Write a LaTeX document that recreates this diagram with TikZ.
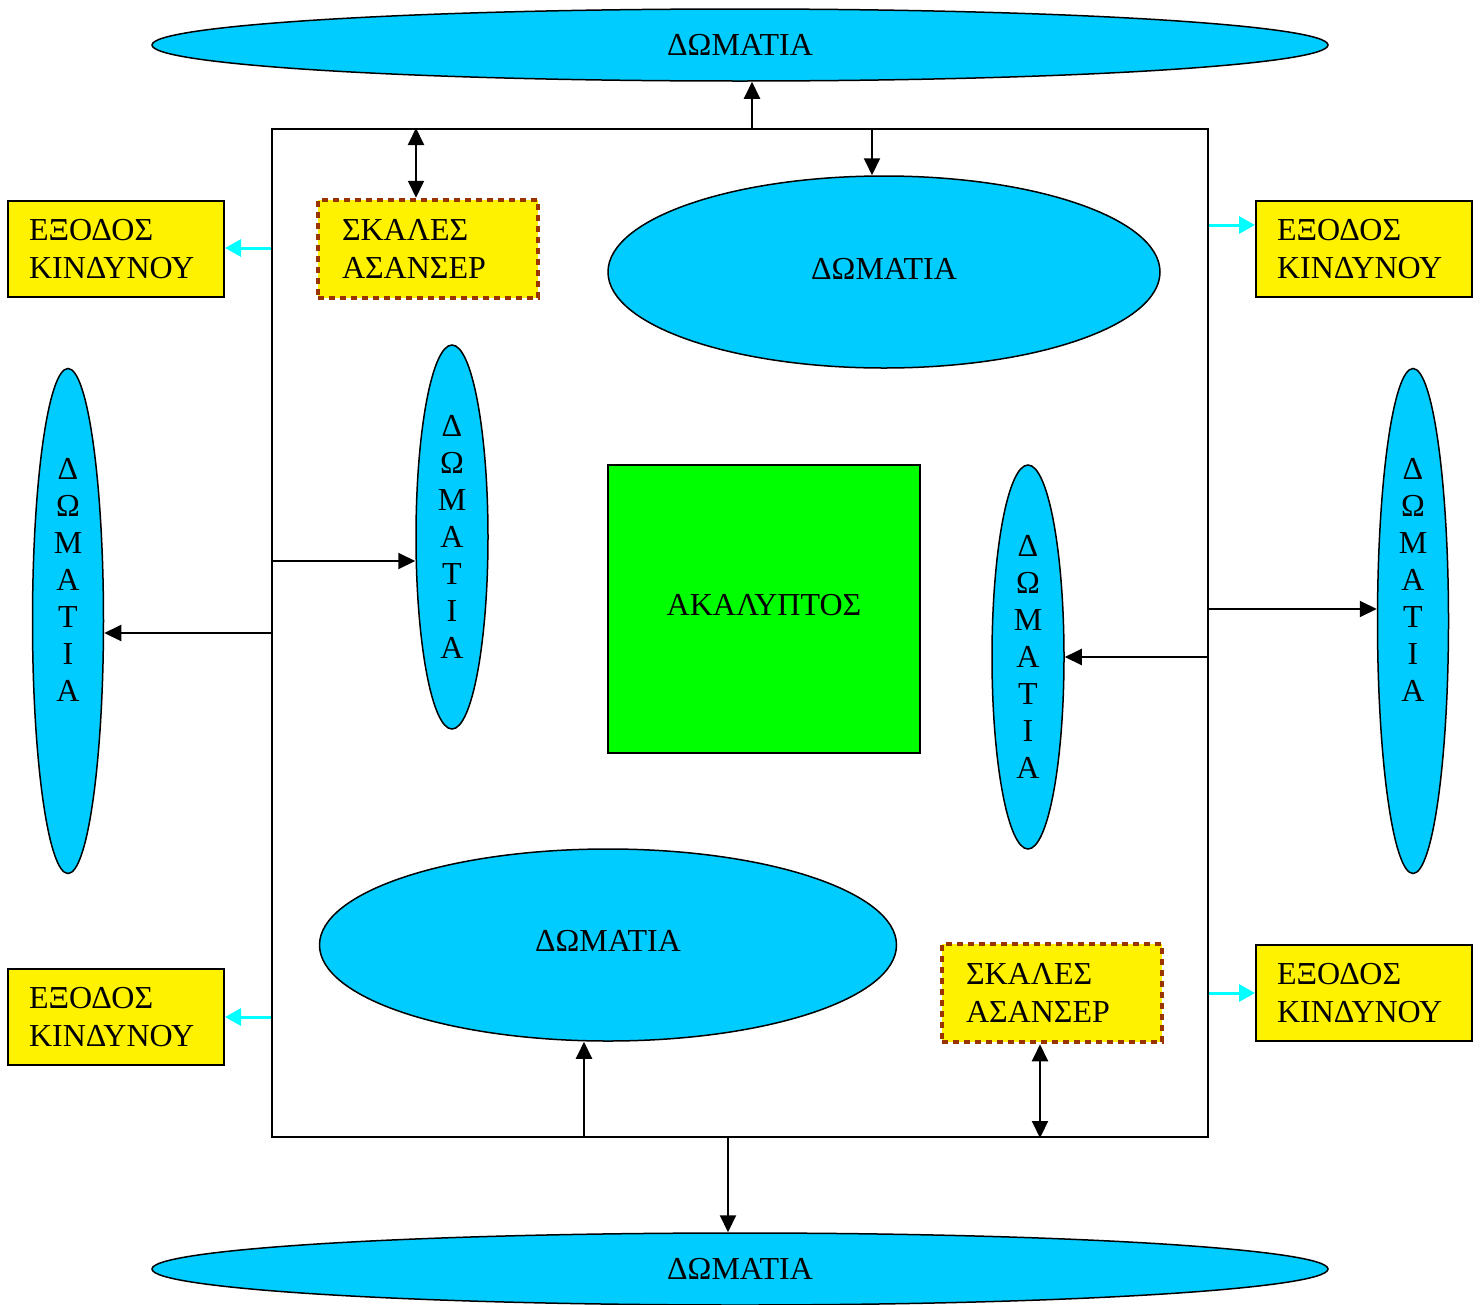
\documentclass[tikz,border=0pt]{standalone}
\usepackage{fontspec}
\setmainfont{Liberation Serif}
\usetikzlibrary{shapes.geometric,arrows.meta,calc}
\definecolor{roomblue}{HTML}{00CCFF}
\definecolor{exitcyan}{HTML}{00FFFF}
\definecolor{stairbrown}{HTML}{993300}
\definecolor{yardgreen}{HTML}{00FF00}
\begin{document}
\begin{tikzpicture}[x=1pt,y=-1pt,
  txt/.style={font=\fontsize{32}{38}\selectfont},
  room/.style={ellipse,draw=black,line width=1.5pt,fill=roomblue,inner sep=0pt,txt},
  vtxt/.style={font=\fontsize{32}{37}\selectfont,align=center,inner sep=0pt},
  exitbox/.style={rectangle,draw=black,line width=2pt,fill=yellow,minimum height=96pt,
     text width=174pt,inner xsep=21pt,align=left,txt},
  stairbox/.style={rectangle,draw=stairbrown,line width=4.5pt,dash pattern=on 6pt off 5pt,
     fill=yellow,minimum height=98pt,text width=172pt,inner xsep=24pt,align=left,txt},
  arr/.style={line width=2pt,-{Triangle[length=17pt,width=16pt]}},
  darr/.style={line width=2pt,{Triangle[length=17pt,width=16pt]}-{Triangle[length=17pt,width=16pt]}},
  carr/.style={line width=3pt,exitcyan,-{Triangle[length=16pt,width=17pt]}}]
\useasboundingbox (0,0) rectangle (1483,1304);

% main rectangle
\node[draw=black,line width=2pt,minimum width=936pt,minimum height=1008pt,inner sep=0pt] (rect) at (740,633) {};

% outer rooms
\node[room,minimum width=1176pt,minimum height=72pt] (topE) at (740,45) {ΔΩΜΑΤΙΑ};
\node[room,minimum width=1176pt,minimum height=72pt] (botE) at (740,1269) {ΔΩΜΑΤΙΑ};
\node[room,minimum width=71pt,minimum height=505pt] (leftE) at (68,621) {};
\node[vtxt] at ([yshift=41pt]leftE.center) {Δ\\Ω\\Μ\\Α\\Τ\\Ι\\Α};
\node[room,minimum width=71pt,minimum height=505pt] (rightE) at (1413,621) {};
\node[vtxt] at ([yshift=41pt]rightE.center) {Δ\\Ω\\Μ\\Α\\Τ\\Ι\\Α};

% inner rooms
\node[room,minimum width=552pt,minimum height=192pt] (innerTop) at (884,272) {};
\node[txt,inner sep=0pt] at ([yshift=3pt]innerTop.center) {ΔΩΜΑΤΙΑ};
\node[room,minimum width=577pt,minimum height=192pt] (innerBot) at (608,945) {};
\node[txt,inner sep=0pt] at ([yshift=4pt]innerBot.center) {ΔΩΜΑΤΙΑ};
\node[room,minimum width=72pt,minimum height=384pt] (innerL) at (452,537) {};
\node[vtxt] at (innerL.center) {Δ\\Ω\\Μ\\Α\\Τ\\Ι\\Α};
\node[room,minimum width=72pt,minimum height=384pt] (innerR) at (1028,657) {};
\node[vtxt] at (innerR.center) {Δ\\Ω\\Μ\\Α\\Τ\\Ι\\Α};

% courtyard
\node[rectangle,draw=black,line width=1.5pt,fill=yardgreen,minimum width=312pt,minimum height=288pt] (yard) at (764,609) {};
\node[txt,inner sep=0pt] at ([yshift=4pt]yard.center) {ΑΚΑΛΥΠΤΟΣ};

% stairs
\node[stairbox] (stairTL) at (428,249) {ΣΚΑΛΕΣ\\ΑΣΑΝΣΕΡ};
\node[stairbox] (stairBR) at (1052,993) {ΣΚΑΛΕΣ\\ΑΣΑΝΣΕΡ};

% exits
\node[exitbox] (exitTL) at (116,249) {ΕΞΟΔΟΣ\\ΚΙΝΔΥΝΟΥ};
\node[exitbox] (exitTR) at (1364,249) {ΕΞΟΔΟΣ\\ΚΙΝΔΥΝΟΥ};
\node[exitbox] (exitBL) at (116,1017) {ΕΞΟΔΟΣ\\ΚΙΝΔΥΝΟΥ};
\node[exitbox] (exitBR) at (1364,993) {ΕΞΟΔΟΣ\\ΚΙΝΔΥΝΟΥ};

% black connectors
\draw[arr] (rect.north -| 752,0) -- (topE.south -| 752,0);
\draw[arr] (rect.north -| 872,0) -- (innerTop.north -| 872,0);
\draw[darr] (rect.north -| 416,0) -- (stairTL.north -| 416,0);
\draw[arr] (rect.west |- 0,561) -- (innerL.west |- 0,561);
\draw[arr] (rect.west |- 0,633) -- (leftE.east |- 0,633);
\draw[arr] (rect.east |- 0,609) -- (rightE.west |- 0,609);
\draw[arr] (rect.east |- 0,657) -- (innerR.east |- 0,657);
\draw[arr] (rect.south -| 584,0) -- (innerBot.south -| 584,0);
\draw[darr] (stairBR.south -| 1040,0) -- (rect.south -| 1040,0);
\draw[arr] (rect.south -| 728,0) -- (botE.north -| 728,0);

% cyan exit connectors
\draw[carr] (rect.west |- 0,248) -- (exitTL.east |- 0,248);
\draw[carr] (rect.east |- 0,225) -- (exitTR.west |- 0,225);
\draw[carr] (rect.west |- 0,1017) -- (exitBL.east |- 0,1017);
\draw[carr] (rect.east |- 0,993) -- (exitBR.west |- 0,993);
\end{tikzpicture}
\end{document}
